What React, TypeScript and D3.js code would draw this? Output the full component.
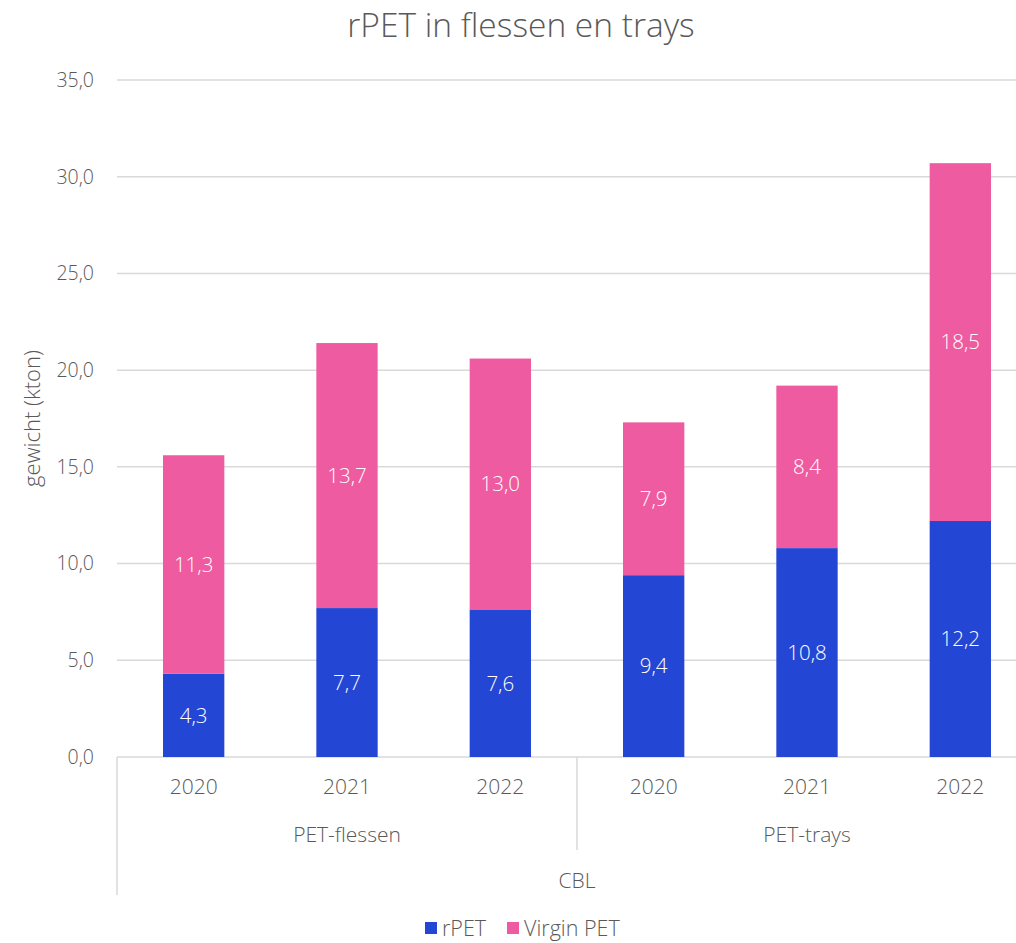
import React from "react";
import * as d3 from "d3";

const years = ["2020", "2021", "2022", "2020", "2021", "2022"];
const groups = ["PET-flessen", "PET-trays"];
const groupOf = [0, 0, 0, 1, 1, 1];
const topLabel = "CBL";
const rPET = [4.3, 7.7, 7.6, 9.4, 10.8, 12.2];
const virginPET = [11.3, 13.7, 13.0, 7.9, 8.4, 18.5];
const yTicks = [0, 5, 10, 15, 20, 25, 30, 35];
const seriesNames = ["rPET", "Virgin PET"];
const colors = ["#2446D4", "#EE5BA0"];

const W = 1016, H = 943;
const left = 117, right = 1037, top = 80, bottom = 757;
const font = "'Open Sans', 'Noto Sans', sans-serif";
const gray = "#595959";

export default function App() {
  const x = d3.scaleBand<number>().domain(d3.range(years.length)).range([left, right]).paddingInner(0.6).paddingOuter(0.3);
  const xb = d3.scaleBand<number>().domain(d3.range(years.length)).range([left, right]);
  const y = d3.scaleLinear().domain([0, 35]).range([bottom, top]);
  const fmt = (v: number) => v.toFixed(1).replace(".", ",");
  const series = [rPET, virginPET];
  const stack = years.map((_, i) => {
    let acc = 0;
    return series.map((s) => { const y0 = acc; acc += s[i]; return [y0, acc]; });
  });
  const groupIdx = groups.map((_, g) => groupOf.map((v, i) => (v === g ? i : -1)).filter((i) => i >= 0));
  return (
    <svg width={W} height={H} style={{ position: "absolute", left: 0, top: 0, background: "#fff" }} fontFamily={font} fontWeight={300}>
      <text x={521} y={37} textAnchor="middle" fontSize={33.5} fill={gray}>rPET in flessen en trays</text>
      {yTicks.map((t) => (
        <g key={t}>
          <line x1={left} x2={right} y1={y(t)} y2={y(t)} stroke="#D9D9D9" strokeWidth={1.5} />
          <text x={94} y={y(t)} dy="0.35em" textAnchor="end" fontSize={19.5} fill={gray}>{fmt(t)}</text>
        </g>
      ))}
      <text transform={`translate(32,${(top + bottom) / 2}) rotate(-90)`} textAnchor="middle" dy="0.35em" fontSize={22} fill={gray}>gewicht (kton)</text>
      {years.map((_, i) =>
        series.map((s, k) => {
          const [y0, y1] = stack[i][k];
          return (
            <g key={`${i}-${k}`}>
              <rect x={x(i)} width={x.bandwidth()} y={y(y1)} height={y(y0) - y(y1)} fill={colors[k]} />
              <text x={x(i)! + x.bandwidth() / 2} y={(y(y0) + y(y1)) / 2} dy="0.35em" textAnchor="middle" fontSize={20.5} fill="#fff">{fmt(s[i])}</text>
            </g>
          );
        })
      )}
      {years.map((yr, i) => (
        <text key={i} x={xb(i)! + xb.bandwidth() / 2} y={787} dy="0.35em" textAnchor="middle" fontSize={21} fill={gray}>{yr}</text>
      ))}
      {groupIdx.map((idx, g) => {
        const x0 = xb(idx[0])!, x1 = xb(idx[idx.length - 1])! + xb.bandwidth();
        return (
          <g key={g}>
            <text x={(x0 + x1) / 2} y={835} dy="0.35em" textAnchor="middle" fontSize={21} fill={gray}>{groups[g]}</text>
            {g > 0 && <line x1={x0} x2={x0} y1={bottom} y2={850} stroke="#D9D9D9" strokeWidth={1.5} />}
          </g>
        );
      })}
      <line x1={left} x2={left} y1={bottom} y2={895} stroke="#D9D9D9" strokeWidth={1.5} />
      <text x={577} y={881} dy="0.35em" textAnchor="middle" fontSize={21} fill={gray}>{topLabel}</text>
      {seriesNames.map((n, k) => (
        <g key={n} transform={`translate(${k === 0 ? 425 : 507},922)`}>
          <rect x={0} y={0} width={12} height={12} fill={colors[k]} />
          <text x={17} y={6} dy="0.35em" fontSize={21.5} fill={gray}>{n}</text>
        </g>
      ))}
    </svg>
  );
}
